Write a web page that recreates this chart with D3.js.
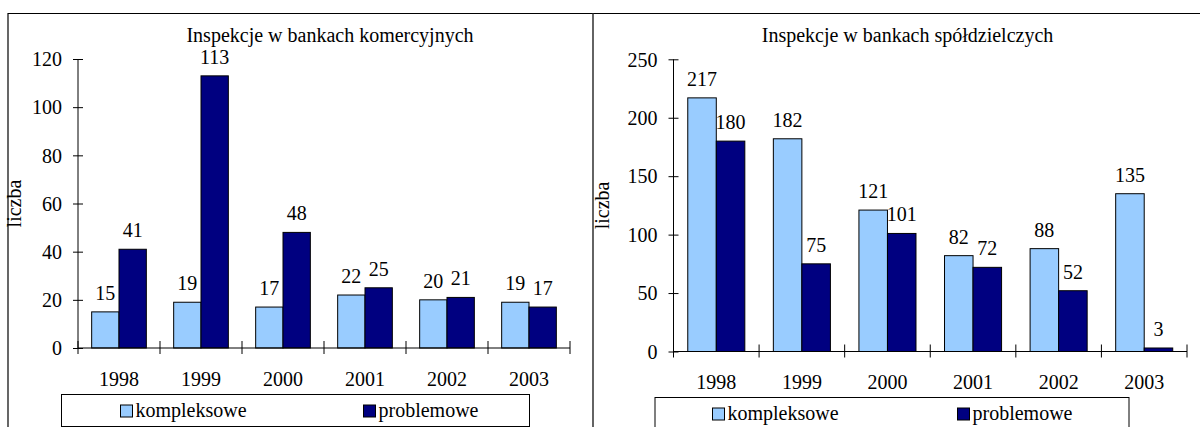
<!DOCTYPE html>
<html>
<head>
<meta charset="utf-8">
<script src="https://cdn.jsdelivr.net/npm/d3@7"></script>
<style>
  html, body { margin: 0; padding: 0; background: #fff; }
  svg { display: block; }
  svg text { font-family: "Liberation Serif", "Times New Roman", "DejaVu Serif", serif !important; fill: #000; }
</style>
</head>
<body>
<svg id="chart" width="1200" height="427" font-family="Liberation Serif, Times New Roman, serif"></svg>
<script>
// ---- data ----
const years = ["1998", "1999", "2000", "2001", "2002", "2003"];
const seriesNames = ["kompleksowe", "problemowe"];
const seriesColors = ["#99CCFF", "#000080"];

const leftTitle = "Inspekcje w bankach komercyjnych";
const leftKompleksowe = [15, 19, 17, 22, 20, 19];
const leftProblemowe = [41, 113, 48, 25, 21, 17];
const leftTicks = [0, 20, 40, 60, 80, 100, 120];

const rightTitle = "Inspekcje w bankach spółdzielczych";
const rightKompleksowe = [217, 182, 121, 82, 88, 135];
const rightProblemowe = [180, 75, 101, 72, 52, 3];
const rightTicks = [0, 50, 100, 150, 200, 250];

const yAxisTitle = "liczba";

// ---- drawing ----
const svg = d3.select("#chart");
const FS = 20;
const FONT = "Liberation Serif, Times New Roman, serif";

// frame lines
svg.append("line").attr("x1", 8).attr("y1", 13.5).attr("x2", 1200).attr("y2", 13.5)
  .attr("stroke", "#000").attr("stroke-width", 1.2);
svg.append("line").attr("x1", 8).attr("y1", 13).attr("x2", 8).attr("y2", 427)
  .attr("stroke", "#000").attr("stroke-width", 1.2);
svg.append("line").attr("x1", 593).attr("y1", 13).attr("x2", 593).attr("y2", 427)
  .attr("stroke", "#222").attr("stroke-width", 1.4);

function drawPanel(cfg) {
  const g = svg.append("g").attr("font-family", FONT);
  const x0 = d3.scaleBand().domain(years).range([cfg.axisX, cfg.plotRight]).paddingInner(0).paddingOuter(0);
  const x1 = d3.scaleBand().domain(seriesNames).range([0, x0.bandwidth()]).paddingInner(0).paddingOuter(0.5);
  const y = d3.scaleLinear().domain([0, cfg.max]).range([cfg.yZero, cfg.yTop]);

  // title
  g.append("text").attr("x", cfg.titleX).attr("y", 41.5)
    .attr("text-anchor", "middle").attr("font-size", FS).text(cfg.title);

  // y axis title
  g.append("text")
    .attr("transform", `translate(${cfg.yTitleX},${(cfg.yZero + cfg.yTop) / 2}) rotate(-90)`)
    .attr("text-anchor", "middle").attr("font-size", FS).text(yAxisTitle);

  // bars
  const rows = years.map((yr, i) => ({ year: yr, vals: [cfg.s1[i], cfg.s2[i]] }));
  const grp = g.selectAll("g.cat").data(rows).join("g").attr("class", "cat")
    .attr("transform", d => `translate(${x0(d.year)},0)`);
  grp.selectAll("rect").data(d => d.vals.map((v, j) => ({ name: seriesNames[j], v, j })))
    .join("rect")
    .attr("x", d => x1(d.name))
    .attr("y", d => y(d.v))
    .attr("width", x1.bandwidth())
    .attr("height", d => y(0) - y(d.v))
    .attr("fill", d => seriesColors[d.j])
    .attr("stroke", "#000").attr("stroke-width", 1);
  grp.selectAll("text.val").data(d => d.vals.map((v, j) => ({ name: seriesNames[j], v, j })))
    .join("text").attr("class", "val")
    .attr("x", d => x1(d.name) + x1.bandwidth() / 2)
    .attr("y", d => y(d.v) - 12)
    .attr("text-anchor", "middle").attr("font-size", FS).text(d => d.v);

  // y axis
  const ya = g.append("g").attr("transform", `translate(${cfg.axisX},0)`)
    .call(d3.axisLeft(y).tickValues(cfg.ticks).tickSize(5).tickPadding(11).tickFormat(d3.format("d")));
  ya.attr("font-family", FONT).attr("font-size", FS);
  ya.select(".domain").attr("stroke", "#000").attr("d", `M0,${cfg.yTop}V${cfg.yZero}`);
  ya.selectAll(".tick line").attr("x1", 5).attr("x2", -5).attr("stroke", "#000");
  ya.selectAll(".tick text").attr("font-size", FS).attr("dy", "0.34em").attr("fill", "#000");

  // x axis (labels at category centres, ticks at category boundaries)
  const xa = g.append("g").attr("transform", `translate(0,${cfg.yZero})`)
    .call(d3.axisBottom(x0).tickSize(0).tickPadding(0));
  xa.attr("font-family", FONT).attr("font-size", FS);
  xa.select(".domain").attr("stroke", "#000").attr("d", `M${cfg.axisX},0H${cfg.plotRight}`);
  xa.selectAll(".tick text").attr("font-size", FS).attr("dy", null).attr("y", 37.5).attr("fill", "#000");
  const bounds = years.map(yr => x0(yr)).concat([x0.range()[1]]);
  xa.selectAll("line.bt").data(bounds).join("line").attr("class", "bt")
    .attr("x1", d => d).attr("x2", d => d).attr("y1", -7).attr("y2", 6)
    .attr("stroke", "#000");

  // legend
  const lg = g.append("g");
  lg.append("rect").attr("x", cfg.legX).attr("y", cfg.legY).attr("width", cfg.legW).attr("height", 32)
    .attr("fill", "#fff").attr("stroke", "#000").attr("stroke-width", 1);
  seriesNames.forEach((name, j) => {
    lg.append("rect").attr("x", cfg.legItemX[j]).attr("y", cfg.legY + 10.5).attr("width", 12).attr("height", 12)
      .attr("fill", seriesColors[j]).attr("stroke", "#000").attr("stroke-width", 1);
    lg.append("text").attr("x", cfg.legItemX[j] + 15).attr("y", cfg.legY + 22)
      .attr("font-size", FS).text(name);
  });
}

drawPanel({
  title: leftTitle, titleX: 330, s1: leftKompleksowe, s2: leftProblemowe, ticks: leftTicks,
  max: 120, axisX: 78, plotRight: 570, yZero: 348, yTop: 59, yTitleX: 21,
  legX: 61.5, legY: 394.5, legW: 468, legItemX: [120.5, 363.5]
});
drawPanel({
  title: rightTitle, titleX: 907.5, s1: rightKompleksowe, s2: rightProblemowe, ticks: rightTicks,
  max: 250, axisX: 673.5, plotRight: 1187, yZero: 351.5, yTop: 59.3, yTitleX: 609,
  legX: 655, legY: 397.5, legW: 474, legItemX: [712.5, 957.5]
});
</script>
</body>
</html>
